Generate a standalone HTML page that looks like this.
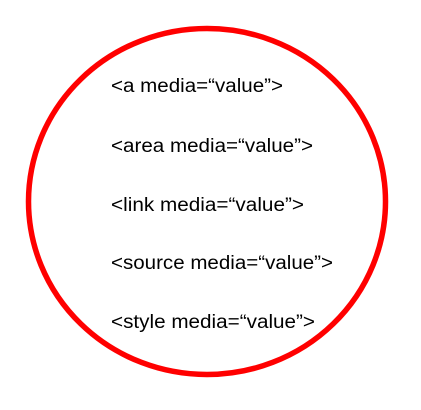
<!DOCTYPE html>
<html><head><meta charset="utf-8"><style>html,body{margin:0;padding:0;background:#fff;}svg{display:block}</style></head>
<body>
<svg width="421" height="410" viewBox="0 0 421 410" xmlns="http://www.w3.org/2000/svg">
<ellipse cx="207" cy="201.5" rx="178.5" ry="173" fill="none" stroke="#f00" stroke-width="5.5"/>
<g font-family="Liberation Sans, sans-serif" font-size="19" fill="#000">
<text x="111" y="92" textLength="172" lengthAdjust="spacingAndGlyphs">&lt;a media=“value”&gt;</text>
<text x="111" y="152" textLength="202" lengthAdjust="spacingAndGlyphs">&lt;area media=“value”&gt;</text>
<text x="111" y="211" textLength="193" lengthAdjust="spacingAndGlyphs">&lt;link media=“value”&gt;</text>
<text x="111" y="269" textLength="222" lengthAdjust="spacingAndGlyphs">&lt;source media=“value”&gt;</text>
<text x="111" y="328" textLength="204" lengthAdjust="spacingAndGlyphs">&lt;style media=“value”&gt;</text>
</g>
</svg>
</body></html>
